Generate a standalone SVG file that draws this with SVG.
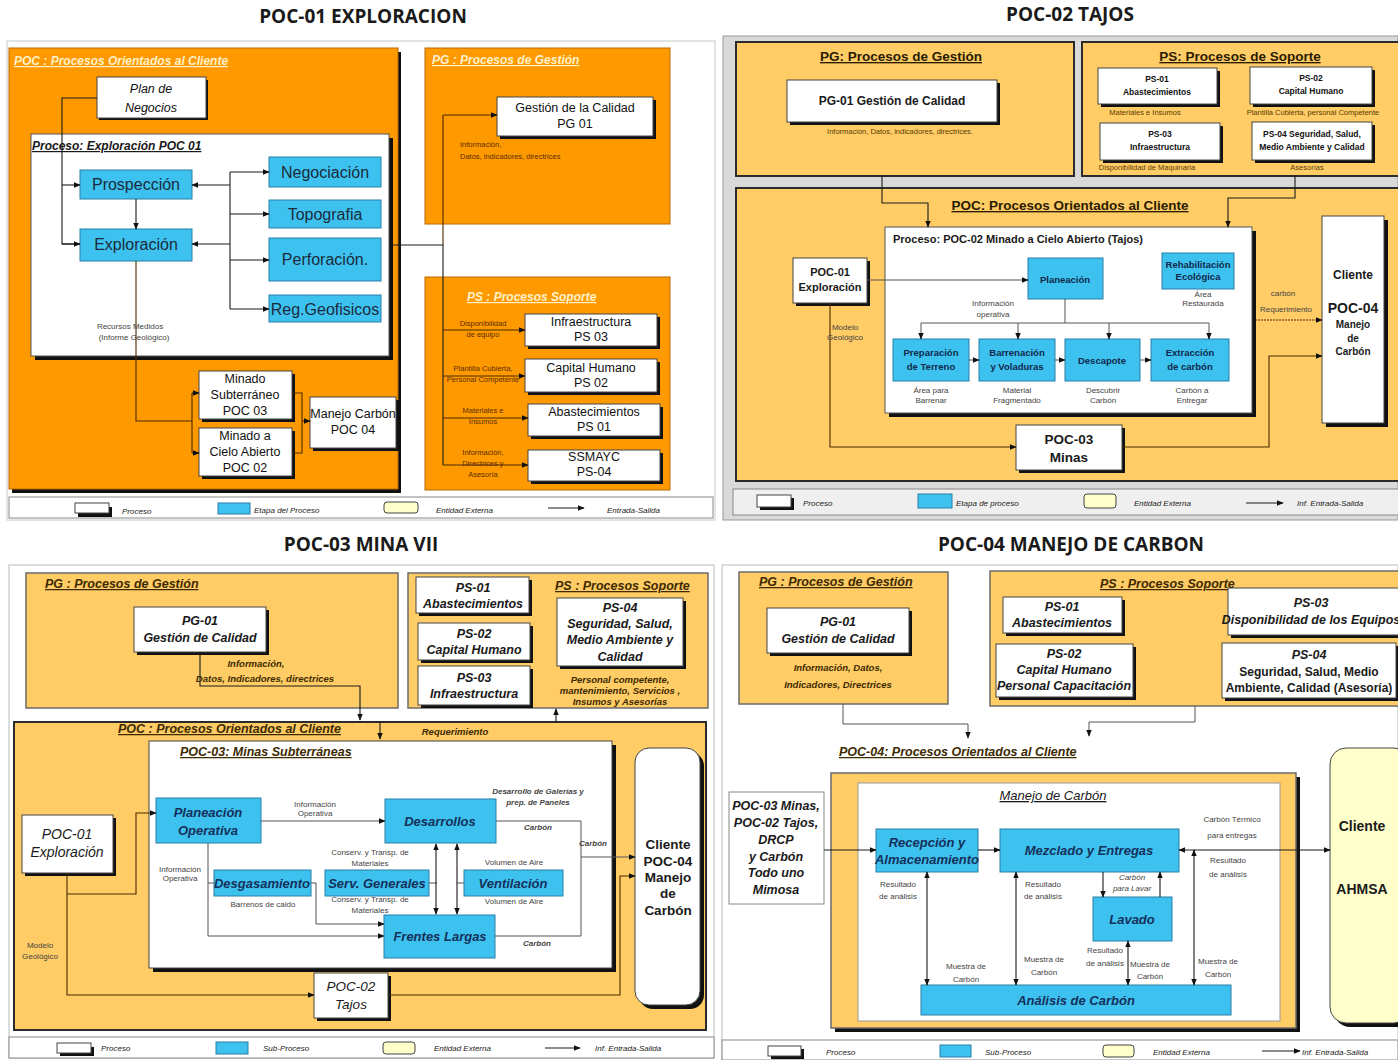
<svg xmlns="http://www.w3.org/2000/svg" width="1398" height="1060" viewBox="0 0 1398 1060">
<defs>
<marker id="ar" viewBox="0 0 10 10" refX="9" refY="5" markerWidth="7" markerHeight="7" markerUnits="userSpaceOnUse" orient="auto-start-reverse"><path d="M0,1 L10,5 L0,9z" fill="#111"/></marker>
</defs>
<style>
text{font-family:"Liberation Sans",Arial,sans-serif;fill:#1a1a1a}
.h{font-family:"Open Sans","Liberation Sans",sans-serif;font-weight:700;font-size:19px;text-anchor:middle}
.m{text-anchor:middle}
.sh{fill:#111}
.wb{fill:#fff;stroke:#444;stroke-width:1}
.bl{fill:#3DC2F0;stroke:#2a7fa8;stroke-width:1}
.o1{fill:#FF9900;stroke:#b86800;stroke-width:1}
.o2{fill:#FFCC66;stroke:#6b6b6b;stroke-width:1.5}
.o3{fill:#FFCC66;stroke:#2b2b2b;stroke-width:2}
.ln{fill:none;stroke:#1a1a1a;stroke-width:1.1}
.lb{fill:none;stroke:#4a2a00;stroke-width:1.1}
.lg{fill:none;stroke:#555;stroke-width:1}
.a{marker-end:url(#ar)}
.aa{marker-start:url(#ar);marker-end:url(#ar)}
.q1h{font-style:italic;font-weight:700;font-size:12px;fill:#FFF1C9;text-decoration:underline}
.lo{font-size:7.5px;fill:#5a2d00;text-anchor:middle}
.los{font-size:7.5px;fill:#5a2d00}
.lbl{font-size:8px;fill:#444;text-anchor:middle}
.bt1{font-size:16px;fill:#1b2b3b;text-anchor:middle}
.wt1{font-size:12.5px;fill:#111;text-anchor:middle}
.hd{font-weight:700;font-size:13.5px;fill:#2a1c00;text-anchor:middle;text-decoration:underline}
.bt2{font-weight:700;font-size:9.5px;fill:#10294a;text-anchor:middle}
.wt2{font-weight:700;font-size:8.5px;fill:#111;text-anchor:middle}
.lo2{font-size:7.5px;fill:#5a3b00;text-anchor:middle}
.it{font-style:italic;font-weight:700;font-size:12.5px;fill:#1a1a1a;text-anchor:middle}
.bti{font-style:italic;font-weight:700;font-size:13px;fill:#15305a;text-anchor:middle}
.ih{font-style:italic;font-weight:700;font-size:12.5px;fill:#3d2a00;text-decoration:underline}
.il{font-style:italic;font-weight:700;font-size:9.5px;fill:#3d2a00;text-anchor:middle}
.lgd{font-style:italic;font-size:8px;fill:#222}
.ye{fill:#FFFFCC;stroke:#444;stroke-width:1}
</style>
<rect width="1398" height="1060" fill="#fff"/>

<!-- section titles -->
<text class="h" x="363" y="23">POC-01 EXPLORACION</text>
<text class="h" x="1070" y="21">POC-02 TAJOS</text>
<text class="h" x="361" y="551">POC-03 MINA VII</text>
<text class="h" x="1071" y="551">POC-04 MANEJO DE CARBON</text>

<!-- ===================== POC-01 EXPLORACION ===================== -->
<g id="poc01">
<rect x="7" y="41" width="708" height="479" fill="#fff" stroke="#c8c8c8"/>
<g id="p1-poc">
<rect class="sh" x="12" y="52" width="389" height="441"/>
<rect class="o1" x="9" y="48" width="389" height="441"/>
<text class="q1h" x="14" y="65">POC : Procesos  Orientados al Cliente</text>
</g>
<g id="p1-plan">
<rect class="sh" x="99" y="80" width="109" height="40"/>
<rect class="wb" x="97" y="77" width="109" height="41"/>
<text class="wt1" x="151" y="93" font-style="italic" font-size="14">Plan de</text>
<text class="wt1" x="151" y="112" font-style="italic" font-size="14">Negocios</text>
</g>
<g id="p1-proceso">
<rect class="sh" x="35" y="138" width="358" height="222"/>
<rect x="31" y="134" width="358" height="222" fill="#fff" stroke="#555"/>
<text x="32" y="150" font-size="12" font-weight="700" font-style="italic" text-decoration="underline">Proceso: Exploración POC 01</text>
</g>
<g id="p1-prospeccion"><rect class="bl" x="80" y="170" width="112" height="29"/><text class="bt1" x="136" y="190">Prospección</text></g>
<g id="p1-exploracion"><rect class="bl" x="80" y="229" width="112" height="32"/><text class="bt1" x="136" y="250">Exploración</text></g>
<g id="p1-negociacion"><rect class="bl" x="269" y="157" width="112" height="30"/><text class="bt1" x="325" y="178">Negociación</text></g>
<g id="p1-topografia"><rect class="bl" x="269" y="200" width="112" height="28"/><text class="bt1" x="325" y="220">Topografia</text></g>
<g id="p1-perforacion"><rect class="bl" x="269" y="238" width="112" height="43"/><text class="bt1" x="325" y="265">Perforación.</text></g>
<g id="p1-reg"><rect class="bl" x="269" y="295" width="112" height="27"/><text class="bt1" x="325" y="315">Reg.Geofisicos</text></g>
<g id="p1-poc03"><rect class="sh" x="202" y="374" width="93" height="48"/><rect class="wb" x="199" y="371" width="93" height="48"/>
<text class="wt1" x="245" y="383">Minado</text><text class="wt1" x="245" y="399">Subterráneo</text><text class="wt1" x="245" y="415">POC 03</text></g>
<g id="p1-poc02"><rect class="sh" x="202" y="431" width="93" height="48"/><rect class="wb" x="199" y="428" width="93" height="48"/>
<text class="wt1" x="245" y="440">Minado a</text><text class="wt1" x="245" y="456">Cielo Abierto</text><text class="wt1" x="245" y="472">POC 02</text></g>
<g id="p1-poc04"><rect class="sh" x="313" y="400" width="86" height="51"/><rect class="wb" x="310" y="397" width="86" height="51"/>
<text class="wt1" x="353" y="418">Manejo Carbón</text><text class="wt1" x="353" y="434">POC 04</text></g>
<g id="p1-pg">
<rect class="o1" x="425" y="48" width="245" height="176"/>
<text class="q1h" x="432" y="64">PG : Procesos de Gestión</text>
<text class="los" x="460" y="147">Información,</text>
<text class="los" x="460" y="159">Datos, indicadores, directrices</text>
</g>
<g id="p1-pg01"><rect class="sh" x="500" y="100" width="156" height="39"/><rect class="wb" x="497" y="97" width="156" height="39"/>
<text class="wt1" x="575" y="112">Gestión de la Calidad</text><text class="wt1" x="575" y="128">PG 01</text></g>
<g id="p1-ps">
<rect class="o1" x="425" y="277" width="245" height="213"/>
<text class="q1h" x="467" y="301" font-size="13">PS : Procesos Soporte</text>
<text class="lo" x="483" y="326">Disponibilidad</text><text class="lo" x="483" y="337">de equipo</text>
<text class="lo" x="483" y="371">Plantilla Cubierta,</text><text class="lo" x="483" y="382">Personal Competente</text>
<text class="lo" x="483" y="413">Materiales e</text><text class="lo" x="483" y="424">Insumos</text>
<text class="lo" x="483" y="455">Información,</text><text class="lo" x="483" y="466">Directrices y</text><text class="lo" x="483" y="477">Asesoría</text>
</g>
<g id="p1-ps03"><rect class="sh" x="528" y="317" width="132" height="32"/><rect class="wb" x="525" y="314" width="132" height="32"/>
<text class="wt1" x="591" y="326">Infraestructura</text><text class="wt1" x="591" y="341">PS 03</text></g>
<g id="p1-ps02"><rect class="sh" x="528" y="362" width="132" height="33"/><rect class="wb" x="525" y="359" width="132" height="33"/>
<text class="wt1" x="591" y="372">Capital Humano</text><text class="wt1" x="591" y="387">PS 02</text></g>
<g id="p1-ps01"><rect class="sh" x="531" y="407" width="132" height="32"/><rect class="wb" x="528" y="404" width="132" height="32"/>
<text class="wt1" x="594" y="416">Abastecimientos</text><text class="wt1" x="594" y="431">PS 01</text></g>
<g id="p1-ps04"><rect class="sh" x="531" y="453" width="132" height="31"/><rect class="wb" x="528" y="450" width="132" height="31"/>
<text class="wt1" x="594" y="461">SSMAYC</text><text class="wt1" x="594" y="476">PS-04</text></g>
<g id="p1-connectors">
<path class="ln" d="M97,98 H62 V244 H80"/>
<path class="ln a" d="M62,244 H80"/>
<path class="ln a" d="M62,185 H80"/>
<path class="ln a" d="M136,199 V229"/>
<path class="ln" d="M230,172 V309"/>
<path class="ln a" d="M230,172 H269"/><path class="ln a" d="M230,214 H269"/>
<path class="ln a" d="M230,260 H269"/><path class="ln a" d="M230,309 H269"/>
<path class="ln a" d="M230,185 H192"/><path class="ln a" d="M230,244 H192"/>
<path class="lb" d="M136,261 V421 H192"/>
<path class="lb" d="M192,393 V453"/>
<path class="lb a" d="M192,393 H199"/><path class="lb a" d="M192,453 H199"/>
<path class="lb" d="M292,393 H302 V453 H292"/>
<path class="lb a" d="M302,421 H310"/>
<path class="ln" d="M389,245 H443 V465"/>
<path class="lb" d="M443,115 V245"/>
<path class="lb a" d="M443,115 H497"/>
<path class="lb a" d="M443,330 H525"/><path class="lb a" d="M443,376 H525"/>
<path class="lb a" d="M443,418 H528"/><path class="lb a" d="M443,465 H528"/>
<text class="lbl" x="130" y="329" font-size="7.5" fill="#666">Recursos Medidos</text>
<text class="lbl" x="134" y="340" font-size="7.5" fill="#666">(Informe Geológico)</text>
</g>
<g id="p1-legend">
<rect x="9" y="497" width="704" height="21" fill="#fff" stroke="#888"/>
<rect class="sh" x="78" y="507" width="34" height="10"/><rect class="wb" x="75" y="503" width="34" height="10"/>
<text class="lgd" x="122" y="514">Proceso</text>
<rect class="bl" x="218" y="503" width="32" height="11"/><text class="lgd" x="254" y="513">Etapa del Proceso</text>
<rect class="ye" x="384" y="502" width="34" height="11" rx="3"/><text class="lgd" x="436" y="513">Entidad Externa</text>
<path class="ln a" d="M548,508 H584"/><text class="lgd" x="607" y="513">Entrada-Salida</text>
</g>
</g>

<!-- ===================== POC-02 TAJOS ===================== -->
<g id="poc02">
<rect x="723" y="36" width="675" height="484" fill="#D9D9D9" stroke="#9a9a9a"/>
<g id="p2-pg">
<rect class="o3" x="736" y="42" width="338" height="134"/>
<text class="hd" x="901" y="61">PG: Procesos de Gestión</text>
<text class="lo2" x="900" y="134" font-size="8">Información, Datos, indicadores, directrices.</text>
</g>
<g id="p2-pg01"><rect class="sh" x="790" y="83" width="210" height="42"/><rect class="wb" x="787" y="80" width="210" height="42"/>
<text class="m" x="892" y="105" font-weight="700" font-size="12">PG-01 Gestión de Calidad</text></g>
<g id="p2-ps">
<rect class="o3" x="1082" y="42" width="318" height="134"/>
<text class="hd" x="1240" y="61">PS: Procesos de Soporte</text>
<text class="lo2" x="1145" y="115">Materiales  e Insumos</text>
<text class="lo2" x="1313" y="115">Plantilla  Cubierta, personal Competente</text>
<text class="lo2" x="1147" y="170">Disponibilidad de Maquinaria</text>
<text class="lo2" x="1307" y="170">Asesorías</text>
</g>
<g id="p2-ps01"><rect class="sh" x="1101" y="71" width="119" height="36"/><rect class="wb" x="1098" y="68" width="119" height="36"/>
<text class="wt2" x="1157" y="82">PS-01</text><text class="wt2" x="1157" y="95">Abastecimientos</text></g>
<g id="p2-ps02"><rect class="sh" x="1253" y="70" width="122" height="37"/><rect class="wb" x="1250" y="67" width="122" height="37"/>
<text class="wt2" x="1311" y="81">PS-02</text><text class="wt2" x="1311" y="94">Capital Humano</text></g>
<g id="p2-ps03"><rect class="sh" x="1103" y="126" width="120" height="37"/><rect class="wb" x="1100" y="123" width="120" height="37"/>
<text class="wt2" x="1160" y="137">PS-03</text><text class="wt2" x="1160" y="150">Infraestructura</text></g>
<g id="p2-ps04"><rect class="sh" x="1255" y="125" width="120" height="38"/><rect class="wb" x="1252" y="122" width="120" height="38"/>
<text class="wt2" x="1312" y="137">PS-04 Seguridad, Salud,</text><text class="wt2" x="1312" y="150">Medio Ambiente y Calidad</text></g>
<g id="p2-poc">
<rect class="o3" x="736" y="188" width="664" height="293"/>
<text class="hd" x="1070" y="210">POC: Procesos Orientados al Cliente</text>
</g>
<g id="p2-proceso">
<rect class="sh" x="889" y="231" width="367" height="186"/>
<rect x="885" y="227" width="367" height="186" fill="#fff" stroke="#555"/>
<text x="893" y="243" font-weight="700" font-size="11">Proceso: POC-02  Minado a Cielo Abierto (Tajos)</text>
</g>
<g id="p2-poc01"><rect class="sh" x="796" y="261" width="74" height="45"/><rect class="wb" x="793" y="258" width="74" height="45"/>
<text class="m" x="830" y="276" font-weight="700" font-size="11">POC-01</text><text class="m" x="830" y="291" font-weight="700" font-size="11">Exploración</text></g>
<g id="p2-planeacion"><rect class="bl" x="1028" y="258" width="75" height="41"/><text class="bt2" x="1065" y="283">Planeación</text></g>
<g id="p2-rehab"><rect class="bl" x="1162" y="253" width="72" height="36"/><text class="bt2" x="1198" y="268" font-size="9">Rehabilitación</text><text class="bt2" x="1198" y="280" font-size="9">Ecológica</text></g>
<g id="p2-preparacion"><rect class="bl" x="893" y="339" width="76" height="42"/><text class="bt2" x="931" y="356">Preparación</text><text class="bt2" x="931" y="370">de Terreno</text></g>
<g id="p2-barrenacion"><rect class="bl" x="979" y="339" width="76" height="42"/><text class="bt2" x="1017" y="356">Barrenación</text><text class="bt2" x="1017" y="370">y Voladuras</text></g>
<g id="p2-descapote"><rect class="bl" x="1065" y="339" width="75" height="42"/><text class="bt2" x="1102" y="364">Descapote</text></g>
<g id="p2-extraccion"><rect class="bl" x="1151" y="339" width="78" height="42"/><text class="bt2" x="1190" y="356">Extracción</text><text class="bt2" x="1190" y="370">de carbón</text></g>
<g id="p2-poc03"><rect class="sh" x="1019" y="428" width="106" height="45"/><rect class="wb" x="1016" y="425" width="106" height="45"/>
<text class="m" x="1069" y="444" font-weight="700" font-size="13.5">POC-03</text><text class="m" x="1069" y="462" font-weight="700" font-size="13.5">Minas</text></g>
<g id="p2-cliente"><rect class="sh" x="1326" y="220" width="62" height="207"/><rect class="wb" x="1322" y="216" width="62" height="207"/>
<text class="m" x="1353" y="279" font-weight="700" font-size="12">Cliente</text>
<text class="m" x="1353" y="313" font-weight="700" font-size="14">POC-04</text>
<text class="m" x="1353" y="328" font-weight="700" font-size="10">Manejo</text>
<text class="m" x="1353" y="342" font-weight="700" font-size="10">de</text>
<text class="m" x="1353" y="355" font-weight="700" font-size="10">Carbón</text></g>
<g id="p2-connectors">
<path class="ln a" d="M882,176 V203 H928 V227"/>
<path class="ln a" d="M1295,176 V198 H1228 V227"/>
<path class="lg a" d="M867,280 H1028"/>
<path class="lg" d="M1065,299 V323 M921,323 H1209"/>
<path class="lg a" d="M921,323 V339"/><path class="lg a" d="M1018,323 V339"/>
<path class="lg a" d="M1109,323 V339"/><path class="lg a" d="M1209,323 V339"/>
<path class="lg a" d="M969,360 H979"/><path class="lg a" d="M1055,360 H1065"/><path class="lg a" d="M1140,360 H1151"/>
<path class="lb a" d="M830,303 V447 H1016"/>
<path class="lb a" d="M1122,447 H1269 V356 H1322"/>
<path class="lb a" d="M1252,320 H1322" stroke-dasharray="2,1"/>
<text class="lbl" x="993" y="306">Información</text><text class="lbl" x="993" y="317">operativa</text>
<text class="lbl" x="1203" y="297">Área</text><text class="lbl" x="1203" y="306">Restaurada</text>
<text class="lbl" x="931" y="393">Área para</text><text class="lbl" x="931" y="403">Barrenar</text>
<text class="lbl" x="1017" y="393">Material</text><text class="lbl" x="1017" y="403">Fragmentado</text>
<text class="lbl" x="1103" y="393">Descubrir</text><text class="lbl" x="1103" y="403">Carbón</text>
<text class="lbl" x="1192" y="393">Carbón a</text><text class="lbl" x="1192" y="403">Entregar</text>
<text class="lbl" x="845" y="330" fill="#5a3b00">Modelo</text><text class="lbl" x="845" y="340" fill="#5a3b00">Geológico</text>
<text class="lbl" x="1283" y="296" font-size="8.5" fill="#6b4a00">carbón</text>
<text class="lbl" x="1286" y="312" font-size="8.5" fill="#6b4a00">Requerimiento</text>
</g>
<g id="p2-legend">
<rect x="733" y="489" width="667" height="26" fill="#EFEFEF" stroke="#888"/>
<rect class="sh" x="760" y="498" width="34" height="12"/><rect class="wb" x="757" y="495" width="34" height="12"/>
<text class="lgd" x="803" y="506">Proceso</text>
<rect class="bl" x="918" y="494" width="34" height="14"/><text class="lgd" x="956" y="506">Etapa de proceso</text>
<rect class="ye" x="1084" y="494" width="32" height="14" rx="3"/><text class="lgd" x="1134" y="506">Entidad Externa</text>
<path class="ln a" d="M1246,503 H1283"/><text class="lgd" x="1297" y="506">Inf. Entrada-Salida</text>
</g>
</g>

<!-- ===================== POC-03 MINA VII ===================== -->
<g id="poc03">
<rect x="9" y="565" width="705" height="493" fill="#fff" stroke="#bbb"/>
<g id="p3-pg">
<rect class="o2" x="26" y="573" width="372" height="135"/>
<text class="ih" x="45" y="588" font-size="13">PG : Procesos de Gestión</text>
<text class="il" x="256" y="667">Información,</text>
<text class="il" x="265" y="682">Datos,  Indicadores, directrices</text>
</g>
<g id="p3-pg01"><rect class="sh" x="137" y="610" width="132" height="45"/><rect class="wb" x="134" y="607" width="132" height="45"/>
<text class="it" x="200" y="625">PG-01</text><text class="it" x="200" y="642">Gestión de Calidad</text></g>
<g id="p3-ps">
<rect class="o2" x="408" y="573" width="300" height="135"/>
<text class="ih" x="555" y="590" font-size="13">PS : Procesos Soporte</text>
<text class="il" x="620" y="683" font-size="9">Personal competente,</text>
<text class="il" x="620" y="694" font-size="9">mantenimiento, Servicios ,</text>
<text class="il" x="620" y="705" font-size="9">Insumos y Asesorías</text>
</g>
<g id="p3-ps01"><rect class="sh" x="419" y="580" width="113" height="36"/><rect class="wb" x="416" y="577" width="113" height="36"/>
<text class="it" x="473" y="592">PS-01</text><text class="it" x="473" y="608">Abastecimientos</text></g>
<g id="p3-ps02"><rect class="sh" x="421" y="626" width="112" height="37"/><rect class="wb" x="418" y="623" width="112" height="37"/>
<text class="it" x="474" y="638">PS-02</text><text class="it" x="474" y="654">Capital Humano</text></g>
<g id="p3-ps03"><rect class="sh" x="421" y="669" width="112" height="39"/><rect class="wb" x="418" y="666" width="112" height="39"/>
<text class="it" x="474" y="682">PS-03</text><text class="it" x="474" y="698">Infraestructura</text></g>
<g id="p3-ps04"><rect class="sh" x="560" y="601" width="126" height="68"/><rect class="wb" x="557" y="598" width="126" height="68"/>
<text class="it" x="620" y="612">PS-04</text><text class="it" x="620" y="628">Seguridad, Salud,</text>
<text class="it" x="620" y="644">Medio Ambiente y</text><text class="it" x="620" y="661">Calidad</text></g>
<g id="p3-poc">
<rect class="o3" x="14" y="722" width="692" height="308" stroke-width="2.5"/>
<text class="ih" x="118" y="733" font-size="12">POC : Procesos  Orientados al Cliente</text>
<text class="il" x="455" y="735">Requerimiento</text>
</g>
<g id="p3-proceso">
<rect class="sh" x="153" y="745" width="463" height="227"/>
<rect x="149" y="741" width="463" height="227" fill="#fff" stroke="#444"/>
<text class="ih" x="180" y="756" fill="#1a1a1a">POC-03:  Minas Subterráneas</text>
</g>
<g id="p3-planeacion"><rect class="bl" x="156" y="798" width="105" height="45"/><text class="bti" x="208" y="817">Planeación</text><text class="bti" x="208" y="835">Operativa</text></g>
<g id="p3-desarrollos"><rect class="bl" x="385" y="799" width="111" height="44"/><text class="bti" x="440" y="826">Desarrollos</text></g>
<g id="p3-desgasamiento"><rect class="bl" x="214" y="870" width="97" height="26"/><text class="bti" x="262" y="888" font-size="12.5">Desgasamiento</text></g>
<g id="p3-serv"><rect class="bl" x="325" y="870" width="104" height="26"/><text class="bti" x="377" y="888" font-size="12.5">Serv. Generales</text></g>
<g id="p3-ventilacion"><rect class="bl" x="464" y="870" width="99" height="26"/><text class="bti" x="513" y="888" font-size="12.5">Ventilación</text></g>
<g id="p3-frentes"><rect class="bl" x="384" y="915" width="111" height="43"/><text class="bti" x="440" y="941">Frentes Largas</text></g>
<g id="p3-poc01"><rect class="sh" x="25" y="818" width="91" height="58"/><rect class="wb" x="22" y="815" width="91" height="58"/>
<text class="m" x="67" y="839" font-style="italic" font-size="14">POC-01</text><text class="m" x="67" y="857" font-style="italic" font-size="14">Exploración</text></g>
<g id="p3-poc02"><rect class="sh" x="317" y="976" width="74" height="45"/><rect class="wb" x="314" y="973" width="74" height="45"/>
<text class="m" x="351" y="991" font-style="italic" font-size="13.5">POC-02</text><text class="m" x="351" y="1009" font-style="italic" font-size="13.5">Tajos</text></g>
<g id="p3-cliente"><rect class="sh" x="639" y="752" width="65" height="257" rx="14"/><rect class="wb" x="635" y="748" width="65" height="257" rx="14"/>
<text class="m" x="668" y="849" font-weight="700" font-size="13.5">Cliente</text>
<text class="m" x="668" y="866" font-weight="700" font-size="13.5">POC-04</text>
<text class="m" x="668" y="882" font-weight="700" font-size="13.5">Manejo</text>
<text class="m" x="668" y="898" font-weight="700" font-size="13.5">de</text>
<text class="m" x="668" y="915" font-weight="700" font-size="13.5">Carbón</text></g>
<g id="p3-connectors">
<path class="ln a" d="M200,652 V686 H360 V720"/>
<path class="ln a" d="M380,722 V739"/>
<path class="ln a" d="M556,722 V709"/>
<path class="lb a" d="M67,873 V995 H314"/>
<path class="lb a" d="M67,894 H136 V813 H156"/>
<path class="lg a" d="M261,821 H385"/>
<path class="lg a" d="M208,843 V936 H384"/>
<path class="lg" d="M208,883 H214"/>
<path class="lg a" d="M311,883 H316 V924 H384"/>
<path class="lg" d="M429,883 H437 M464,883 H457"/>
<path class="ln aa" d="M436,844 V914"/>
<path class="ln aa" d="M457,844 V914"/>
<path class="lg" d="M496,821 H581 V936 H495"/>
<path class="lg a" d="M581,857 H635"/>
<path class="lb a" d="M388,995 H620 V876 H635"/>
<text class="lbl" x="315" y="807" font-size="7.5">Información</text><text class="lbl" x="315" y="816" font-size="7.5">Operativa</text>
<text class="lbl" x="180" y="872" font-size="7.5">Información</text><text class="lbl" x="180" y="881" font-size="7.5">Operativa</text>
<text class="lbl" x="263" y="907" font-size="7.5">Barrenos de caido</text>
<text class="lbl" x="370" y="855" font-size="7.5">Conserv. y Transp. de</text><text class="lbl" x="370" y="866" font-size="7.5">Materiales</text>
<text class="lbl" x="370" y="902" font-size="7.5">Conserv. y Transp. de</text><text class="lbl" x="370" y="913" font-size="7.5">Materiales</text>
<text class="lbl" x="514" y="865" font-size="7.5">Volumen de Aire</text><text class="lbl" x="514" y="904" font-size="7.5">Volumen de Aire</text>
<text class="lbl" x="538" y="794" font-size="8.5" font-style="italic" font-weight="700" fill="#222">Desarrollo de Galerías y</text>
<text class="lbl" x="538" y="805" font-size="8.5" font-style="italic" font-weight="700" fill="#222">prep. de Paneles</text>
<text class="lbl" x="538" y="830" font-style="italic" font-weight="700" fill="#222">Carbón</text>
<text class="lbl" x="593" y="846" font-style="italic" font-weight="700" fill="#222">Carbón</text>
<text class="lbl" x="537" y="946" font-style="italic" font-weight="700" fill="#222">Carbón</text>
<text class="lbl" x="40" y="948" font-size="8.5" fill="#5a3b00">Modelo</text><text class="lbl" x="40" y="959" font-size="8.5" fill="#5a3b00">Geológico</text>
</g>
<g id="p3-legend">
<rect x="9" y="1037" width="705" height="21" fill="#fff" stroke="#888"/>
<rect class="sh" x="60" y="1047" width="34" height="9"/><rect class="wb" x="57" y="1043" width="34" height="10"/>
<text class="lgd" x="101" y="1051">Proceso</text>
<rect class="bl" x="216" y="1042" width="32" height="12"/><text class="lgd" x="263" y="1051">Sub-Proceso</text>
<rect class="ye" x="383" y="1042" width="32" height="12" rx="3"/><text class="lgd" x="434" y="1051">Entidad Externa</text>
<path class="ln a" d="M545,1048 H580"/><text class="lgd" x="595" y="1051">Inf. Entrada-Salida</text>
</g>
</g>

<!-- ===================== POC-04 MANEJO DE CARBON ===================== -->
<g id="poc04">
<rect x="722" y="565" width="676" height="495" fill="#fff" stroke="#bbb"/>
<g id="p4-pg">
<rect class="o2" x="739" y="572" width="209" height="132" stroke="#888"/>
<text class="ih" x="759" y="586" font-size="13">PG : Procesos de Gestión</text>
<text class="il" x="838" y="671" font-size="10">Información, Datos,</text>
<text class="il" x="838" y="688" font-size="10">Indicadores, Directrices</text>
</g>
<g id="p4-pg01"><rect class="sh" x="770" y="611" width="142" height="45"/><rect class="wb" x="767" y="608" width="142" height="45"/>
<text class="it" x="838" y="626" font-size="13">PG-01</text><text class="it" x="838" y="643" font-size="13">Gestión de Calidad</text></g>
<g id="p4-ps">
<rect class="o2" x="990" y="571" width="410" height="135" stroke="#888"/>
<text class="ih" x="1100" y="588" font-size="13">PS : Procesos Soporte</text>
</g>
<g id="p4-ps01"><rect class="sh" x="1006" y="600" width="119" height="36"/><rect class="wb" x="1003" y="597" width="119" height="36"/>
<text class="it" x="1062" y="611">PS-01</text><text class="it" x="1062" y="627">Abastecimientos</text></g>
<g id="p4-ps02"><rect class="sh" x="999" y="647" width="137" height="53"/><rect class="wb" x="996" y="644" width="137" height="53"/>
<text class="it" x="1064" y="658">PS-02</text><text class="it" x="1064" y="674">Capital Humano</text><text class="it" x="1064" y="690">Personal Capacitación</text></g>
<g id="p4-ps03"><rect class="sh" x="1231" y="591" width="175" height="47"/><rect class="wb" x="1228" y="588" width="175" height="47"/>
<text class="it" x="1311" y="607" font-size="11.5">PS-03</text><text class="it" x="1311" y="624" font-size="10">Disponibilidad de los Equipos</text></g>
<g id="p4-ps04"><rect class="sh" x="1225" y="646" width="174" height="55"/><rect class="wb" x="1222" y="643" width="174" height="55"/>
<text class="it" x="1309" y="659" font-size="12">PS-04</text>
<text class="m" x="1309" y="676" font-weight="700" font-size="12">Seguridad, Salud, Medio</text>
<text class="m" x="1309" y="692" font-weight="700" font-size="12">Ambiente, Calidad (Asesoría)</text></g>
<text id="p4-title" class="ih" x="839" y="756" font-size="12.5" fill="#333">POC-04: Procesos  Orientados al Cliente</text>
<g id="p4-manejo">
<rect class="sh" x="835" y="777" width="465" height="255"/>
<rect class="o2" x="831" y="773" width="465" height="255" stroke="#555"/>
<rect x="858" y="783" width="422" height="238" fill="#fff" stroke="#999"/>
<text class="m" x="1053" y="800" font-style="italic" font-size="13" text-decoration="underline">Manejo de Carbón</text>
</g>
<g id="p4-entradas"><rect x="729" y="792" width="95" height="112" fill="#fff" stroke="#888"/>
<text class="it" x="776" y="810">POC-03 Minas,</text><text class="it" x="776" y="827">POC-02 Tajos,</text>
<text class="it" x="776" y="844">DRCP</text><text class="it" x="776" y="861">y Carbón</text>
<text class="it" x="776" y="877">Todo uno</text><text class="it" x="776" y="894">Mimosa</text></g>
<g id="p4-recepcion"><rect class="bl" x="876" y="829" width="102" height="43"/><text class="bti" x="927" y="847" font-size="12.5">Recepción y</text><text class="bti" x="927" y="864" font-size="12.5">Almacenamiento</text></g>
<g id="p4-mezclado"><rect class="bl" x="1000" y="829" width="179" height="43"/><text class="bti" x="1089" y="855" font-size="14">Mezclado y Entregas</text></g>
<g id="p4-lavado"><rect class="bl" x="1093" y="897" width="79" height="44"/><text class="bti" x="1132" y="924" font-size="14">Lavado</text></g>
<g id="p4-analisis"><rect class="bl" x="921" y="985" width="310" height="30"/><text class="bti" x="1076" y="1005" font-size="14">Análisis de Carbón</text></g>
<g id="p4-cliente"><rect class="sh" x="1334" y="752" width="80" height="275" rx="16"/><rect class="ye" x="1330" y="748" width="80" height="275" rx="16" stroke="#999"/>
<text class="m" x="1362" y="831" font-weight="700" font-size="14">Cliente</text>
<text class="m" x="1362" y="894" font-weight="700" font-size="14">AHMSA</text></g>
<g id="p4-connectors">
<path class="lg a" d="M843,704 V724 H968 V738"/>
<path class="lg a" d="M1195,706 V722 H1089 V736"/>
<path class="ln a" d="M824,850 H876"/>
<path class="ln a" d="M978,850 H1000"/>
<path class="ln aa" d="M1179,850 H1330"/>
<path class="ln aa" d="M927,872 V985"/>
<path class="ln aa" d="M1016,872 V985"/>
<path class="ln a" d="M1103,872 V897"/>
<path class="ln a" d="M1160,897 V872"/>
<path class="ln aa" d="M1128,941 V985"/>
<path class="ln aa" d="M1194,850 V985"/>
<text class="lbl" x="1232" y="822" font-size="9" fill="#333">Carbón Térmico</text>
<text class="lbl" x="1232" y="838" font-size="9" fill="#333">para  entregas</text>
<text class="lbl" x="1228" y="863" font-size="8.5">Resultado</text><text class="lbl" x="1228" y="877" font-size="8.5">de análisis</text>
<text class="lbl" x="898" y="887">Resultado</text><text class="lbl" x="898" y="899">de análisis</text>
<text class="lbl" x="1043" y="887">Resultado</text><text class="lbl" x="1043" y="899">de análisis</text>
<text class="lbl" x="1132" y="880" font-style="italic">Carbón</text><text class="lbl" x="1132" y="891" font-style="italic">para Lavar</text>
<text class="lbl" x="1105" y="953">Resultado</text><text class="lbl" x="1105" y="966">de análisis</text>
<text class="lbl" x="966" y="969">Muestra de</text><text class="lbl" x="966" y="982">Carbón</text>
<text class="lbl" x="1044" y="962">Muestra de</text><text class="lbl" x="1044" y="975">Carbón</text>
<text class="lbl" x="1150" y="967">Muestra de</text><text class="lbl" x="1150" y="979">Carbón</text>
<text class="lbl" x="1218" y="964">Muestra de</text><text class="lbl" x="1218" y="977">Carbón</text>
</g>
<g id="p4-legend">
<rect x="722" y="1040" width="676" height="20" fill="#fff" stroke="#888"/>
<rect class="sh" x="771" y="1049" width="33" height="10"/><rect class="wb" x="768" y="1046" width="33" height="10"/>
<text class="lgd" x="826" y="1055">Proceso</text>
<rect class="bl" x="940" y="1045" width="31" height="12"/><text class="lgd" x="985" y="1055">Sub-Proceso</text>
<rect class="ye" x="1103" y="1045" width="31" height="12" rx="3"/><text class="lgd" x="1153" y="1055">Entidad Externa</text>
<path class="ln a" d="M1262,1051 H1300"/><text class="lgd" x="1302" y="1055">Inf. Entrada-Salida</text>
</g>
</g>
</svg>
